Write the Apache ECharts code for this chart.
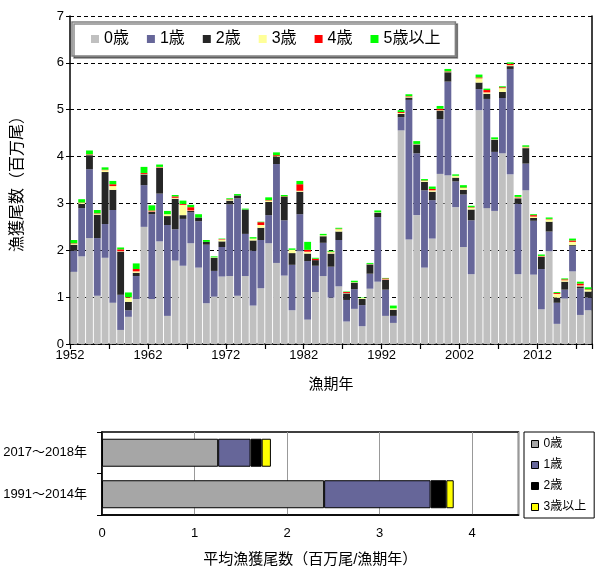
<!DOCTYPE html>
<html>
<head>
<meta charset="utf-8">
<script src="https://cdn.jsdelivr.net/npm/echarts/dist/echarts.min.js"></script>
<style>
html,body{margin:0;padding:0;background:#fff;}
#chart{width:595px;height:568px;}
</style>
</head>
<body>
<div id="chart"></div>
<script>
// ---- data (top chart: catch numbers by age, million fish) ----
const years = [1952,1953,1954,1955,1956,1957,1958,1959,1960,1961,1962,1963,1964,1965,1966,1967,1968,1969,1970,1971,1972,1973,1974,1975,1976,1977,1978,1979,1980,1981,1982,1983,1984,1985,1986,1987,1988,1989,1990,1991,1992,1993,1994,1995,1996,1997,1998,1999,2000,2001,2002,2003,2004,2005,2006,2007,2008,2009,2010,2011,2012,2013,2014,2015,2016,2017,2018];
const age0 = [1.54,1.87,2.26,1.03,1.84,0.88,0.30,0.58,0.96,2.50,0.96,2.19,0.60,1.78,1.67,2.15,1.63,0.87,1.01,1.44,1.45,1.03,1.45,0.82,1.19,2.15,1.73,1.46,0.72,1.98,0.52,1.11,1.45,0.99,1.23,0.48,0.75,0.38,1.18,1.33,0.60,0.45,4.56,2.23,2.75,1.63,2.25,3.63,3.60,2.92,2.07,1.49,4.99,2.90,2.84,4.07,3.62,1.49,3.28,1.48,0.74,1.98,0.43,0.97,1.55,0.62,0.72];
const age1 = [0.45,1.03,1.47,1.23,0.72,1.98,0.75,0.14,0.49,0.89,1.81,1.02,1.94,0.67,1.00,0.66,0.99,1.25,0.55,0.63,1.53,2.08,0.90,1.17,1.03,0.60,2.11,1.18,0.97,0.79,1.25,0.56,0.71,0.66,0.99,0.46,0.42,0.45,0.32,1.38,0.56,0.15,0.28,2.98,1.32,1.65,0.82,1.17,2.00,0.55,1.12,1.15,0.45,2.33,1.26,1.18,2.25,1.50,0.57,1.15,0.86,0.42,0.45,0.19,0.54,0.57,0.27];
const age2 = [0.13,0.09,0.30,0.50,1.11,0.43,0.92,0.18,0.07,0.23,0.05,0.55,0.19,0.65,0.08,0.03,0.08,0.06,0.28,0.12,0.08,0.06,0.52,0.22,0.26,0.28,0.16,0.50,0.25,0.48,0.16,0.12,0.14,0.28,0.18,0.14,0.14,0.13,0.20,0.09,0.21,0.13,0.07,0.05,0.19,0.18,0.18,0.18,0.20,0.08,0.10,0.23,0.14,0.11,0.26,0.13,0.06,0.12,0.33,0.06,0.26,0.21,0.11,0.17,0.02,0.04,0.13];
const age3 = [0.02,0.02,0.01,0.02,0.04,0.08,0.01,0.09,0.03,0.01,0.01,0.01,0.04,0.02,0.22,0.01,0.00,0.00,0.01,0.04,0.02,0.00,0.00,0.04,0.06,0.03,0.01,0.00,0.07,0.02,0.04,0.00,0.02,0.03,0.05,0.01,0.01,0.02,0.01,0.01,0.01,0.03,0.02,0.02,0.01,0.02,0.03,0.01,0.01,0.04,0.04,0.04,0.09,0.03,0.01,0.08,0.02,0.02,0.02,0.03,0.01,0.05,0.08,0.03,0.07,0.02,0.04];
const age4 = [0.01,0.01,0.01,0.01,0.01,0.04,0.04,0.01,0.05,0.02,0.02,0.01,0.00,0.03,0.02,0.07,0.00,0.00,0.00,0.01,0.01,0.00,0.00,0.00,0.06,0.01,0.02,0.01,0.00,0.14,0.04,0.03,0.00,0.01,0.01,0.02,0.00,0.00,0.00,0.00,0.02,0.00,0.02,0.01,0.00,0.01,0.03,0.03,0.01,0.00,0.01,0.01,0.02,0.05,0.00,0.02,0.03,0.01,0.01,0.03,0.01,0.01,0.02,0.02,0.03,0.04,0.01];
const age5 = [0.07,0.07,0.08,0.07,0.05,0.07,0.04,0.10,0.12,0.13,0.11,0.05,0.07,0.03,0.07,0.05,0.07,0.04,0.02,0.01,0.02,0.03,0.02,0.03,0.01,0.06,0.06,0.03,0.03,0.07,0.17,0.02,0.03,0.02,0.02,0.01,0.03,0.01,0.02,0.04,0.01,0.06,0.04,0.04,0.06,0.03,0.05,0.06,0.05,0.03,0.05,0.03,0.06,0.03,0.04,0.02,0.03,0.04,0.03,0.02,0.03,0.03,0.02,0.02,0.04,0.04,0.04];
const topNames = ['0歳','1歳','2歳','3歳','4歳','5歳以上'];
const yearTickLabels = [1952,1962,1972,1982,1992,2002,2012];

// ---- data (bottom chart: average catch numbers) ----
const periods = ['1991～2014年','2017～2018年'];
const avgNames = ['0歳','1歳','2歳','3歳以上'];
const avg0 = [2.40,1.255];
const avg1 = [1.15,0.35];
const avg2 = [0.17,0.12];
const avg3 = [0.08,0.10];

const FONT = "'Liberation Sans', Arial, 'Noto Sans CJK JP', sans-serif";
const topColors = ['#C0C0C0','#666699','#262626','#FFFF99','#FF0000','#00FF00'];
const botColors = ['#A6A6A6','#666699','#000000','#FFFF00'];
const topData = [age0,age1,age2,age3,age4,age5];
const botData = [avg0,avg1,avg2,avg3];

const chart = echarts.init(document.getElementById('chart'), null, {renderer:'canvas'});

const series = [];
topNames.forEach((n,i)=>{
  series.push({
    name:n, type:'bar', stack:'top', xAxisIndex:0, yAxisIndex:0,
    barCategoryGap:'12%',
    itemStyle:{color:topColors[i]},
    data:topData[i], animation:false
  });
});
avgNames.forEach((n,i)=>{
  series.push({
    name:n, type:'bar', stack:'avg', xAxisIndex:2, yAxisIndex:2,
    barWidth:28,
    itemStyle:{color:botColors[i], borderColor:'#000', borderWidth:1},
    data:botData[i], animation:false
  });
});

const option = {
  animation:false,
  textStyle:{fontFamily:FONT},
  grid:[
    {left:70, top:16, width:523, height:328},
    {left:102, top:432, width:416.5, height:85, show:true, borderColor:'#000', borderWidth:1.5}
  ],
  legend:[
    {
      data:topNames.map(n=>({name:n, icon:'rect'})),
      left:72, top:22, orient:'horizontal',
      itemWidth:8, itemHeight:8, itemGap:18,
      padding:[9,15,9,19],
      borderColor:'#808080', borderWidth:1.5,
      backgroundColor:'#fff',
      shadowColor:'rgba(0,0,0,0.45)', shadowOffsetX:2, shadowOffsetY:2, shadowBlur:0,
      textStyle:{fontSize:16, color:'#000', fontFamily:FONT},
      selectedMode:false
    },
    {
      data:avgNames.map((n,i)=>({name:n, icon:'rect', itemStyle:{color:botColors[i], borderColor:'#000', borderWidth:1}})),
      left:524, top:432, orient:'vertical',
      itemWidth:7, itemHeight:7, itemGap:9,
      padding:[6,8,5,7],
      borderColor:'#000', borderWidth:1,
      textStyle:{fontSize:12, color:'#000', fontFamily:FONT},
      selectedMode:false
    }
  ],
  xAxis:[
    {
      type:'category', gridIndex:0, data:years,
      axisLine:{show:true, lineStyle:{color:'#000', width:1.5}},
      axisTick:{show:false}, axisLabel:{show:false}, splitLine:{show:false}
    },
    {
      type:'value', gridIndex:0, min:0, max:years.length, interval:5, position:'bottom',
      axisLine:{show:false},
      axisTick:{show:true, length:5, lineStyle:{color:'#000', width:1.2}},
      axisLabel:{show:true, fontSize:13, color:'#000', margin:5,
        formatter:(v)=>{ const y = years[0]+v; return yearTickLabels.indexOf(y)>=0 ? String(y) : ''; }},
      splitLine:{show:false},
      name:'漁期年', nameLocation:'middle', nameGap:33,
      nameTextStyle:{fontSize:15, color:'#000', fontFamily:FONT}
    },
    {
      type:'value', gridIndex:1, min:0, max:4.5, interval:1,
      axisLine:{show:true, lineStyle:{color:'#000', width:1.5}},
      axisTick:{show:false},
      axisLabel:{fontSize:13, color:'#000', margin:12, showMaxLabel:false,
        formatter:(v)=> (v<=4 && Number.isInteger(v)) ? String(v) : ''},
      splitLine:{show:true, lineStyle:{color:'#999', width:1}},
      name:'平均漁獲尾数（百万尾/漁期年）', nameLocation:'middle', nameGap:37,
      nameTextStyle:{fontSize:15, color:'#000', fontFamily:FONT}
    }
  ],
  yAxis:[
    {
      type:'value', gridIndex:0, min:0, max:7, interval:1,
      axisLine:{show:true, lineStyle:{color:'#000', width:1.5}},
      axisTick:{show:true, length:4, lineStyle:{color:'#000'}},
      axisLabel:{fontSize:13, color:'#000', margin:6},
      splitLine:{show:true, lineStyle:{color:'#000', type:[4,3], width:1}},
      name:'漁獲尾数（百万尾）', nameLocation:'middle', nameGap:44, nameRotate:90,
      nameTextStyle:{fontSize:16, color:'#000', fontFamily:FONT}
    },
    {
      type:'value', gridIndex:0, min:0, max:7, position:'right',
      axisLine:{show:true, lineStyle:{color:'#000', width:1.5}},
      axisTick:{show:false}, axisLabel:{show:false}, splitLine:{show:false}
    },
    {
      type:'category', gridIndex:1, data:periods,
      axisLine:{show:true, lineStyle:{color:'#000', width:1.5}},
      axisTick:{show:true, length:5, lineStyle:{color:'#000'}},
      axisLabel:{fontSize:13, color:'#000', margin:15},
      splitLine:{show:false}
    }
  ],
  series:series
};
chart.setOption(option);
</script>
</body>
</html>
